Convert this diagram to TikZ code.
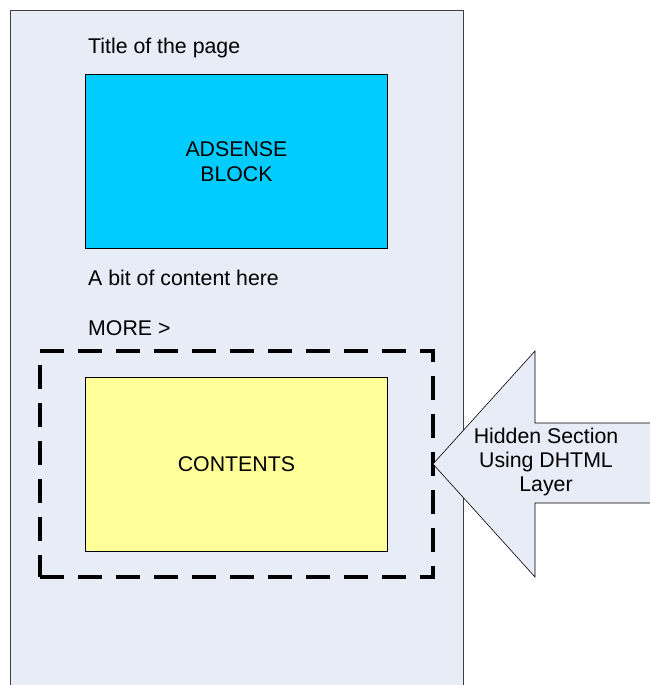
\documentclass[tikz,border=0pt]{standalone}
\usepackage{fontspec}
\setmainfont{Liberation Sans}
\definecolor{pagebg}{RGB}{232,236,247}
\definecolor{adcyan}{RGB}{0,204,255}
\definecolor{contyellow}{RGB}{255,255,153}
\definecolor{pageline}{RGB}{64,64,64}
\begin{document}
\begin{tikzpicture}[x=1pt,y=-1pt,
  txt/.style={font=\fontsize{21.3}{25}\selectfont, inner sep=0pt},
  box/.style={draw=black, line width=0.8pt}]
\useasboundingbox (0,0) rectangle (649,685);
% page
\fill[pagebg] (10,11) rectangle (463,690);
\draw[pageline, line width=1pt] (10,690) -- (10,11) -- (463,11) -- (463,690);
% adsense
\node[box, fill=adcyan, minimum width=302pt, minimum height=174pt, anchor=north west, inner sep=0pt] (ad) at (85,74) {};
\node[txt, align=center] (adt) at (ad.center) {ADSENSE\\BLOCK};
% texts
\node[txt, anchor=west] (title) at (88,48) {Title of the page};
\node[txt, anchor=west] (bit) at (88,278) {A bit of content here};
\node[txt, anchor=west] (more) at (88,328) {MORE >};
% dashed frame
\node[draw=black, line width=3.5pt, dash pattern=on 24pt off 14pt, minimum width=393pt, minimum height=226pt, anchor=north west, inner sep=0pt, outer sep=0pt] (hid) at (40,351) {};
% contents
\node[box, fill=contyellow, minimum width=302pt, minimum height=174pt, anchor=north west, inner sep=0pt] (cont) at (85,377) {};
\node[txt] (contt) at (cont.center) {CONTENTS};
% arrow
\draw[black, line width=0.6pt, fill=pagebg] (hid.east) -- (535,351) -- (535,423) -- (652,423) -- (652,503) -- (535,503) -- (535,577) -- cycle;
\node[txt, align=center, font=\fontsize{21.3}{24}\selectfont] (arrt) at (546,462) {Hidden Section\\Using DHTML\\Layer};
\end{tikzpicture}
\end{document}
